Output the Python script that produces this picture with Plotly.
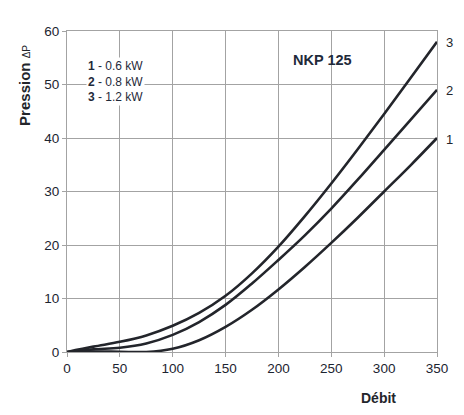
import plotly.graph_objects as go

# flow (Débit) and pressure drop readings for the three heater powers
debit = [0, 25, 50, 75, 100, 125, 150, 175, 200, 225, 250, 275, 300, 325, 350]
p_06kw = [0, 0.1, 0.05, 0, 0.6, 2.2, 4.7, 7.9, 11.7, 15.9, 20.4, 25.1, 30.0, 34.9, 40]
p_08kw = [0, 0.5, 0.8, 1.6, 3.2, 5.6, 8.8, 12.8, 17.2, 21.8, 26.8, 32.2, 37.8, 43.4, 49]
p_12kw = [0, 1.0, 1.9, 3.1, 4.9, 7.3, 10.5, 14.7, 19.7, 25.4, 31.5, 37.9, 44.5, 51.2, 58]
curve_names = ["1", "2", "3"]
legend_lines = [("1", "0.6 kW"), ("2", "0.8 kW"), ("3", "1.2 kW")]

INK = "#23252b"
GRID = "#a3a3a3"
FONT = "Liberation Sans, Arial, sans-serif"

fig = go.Figure()
for name, ys in zip(curve_names, [p_06kw, p_08kw, p_12kw]):
    fig.add_trace(go.Scatter(x=debit, y=ys, mode="lines", name=name,
                             line=dict(color=INK, width=2.6, shape="spline", smoothing=1.0),
                             showlegend=False))
    fig.add_annotation(x=debit[-1], y=ys[-1], text=name, showarrow=False,
                       xanchor="left", xshift=7, yshift=-1,
                       font=dict(size=13, color=INK))

legend_txt = "<br>".join(f"<b>{n}</b> - {v}" for n, v in legend_lines)
fig.add_annotation(x=45.5, y=50.6, text=legend_txt, showarrow=False,
                   bgcolor="white", align="center",
                   font=dict(size=12, color="#1f2a3a"))
fig.add_annotation(x=242, y=54.6, text="<b>NKP 125</b>", showarrow=False,
                   font=dict(size=14.5, color="#1f2a3a"))
fig.add_annotation(xref="paper", yref="paper", x=0.841, y=-0.143,
                   xanchor="center", yanchor="middle",
                   text="<b>Débit</b>", showarrow=False,
                   font=dict(size=14, color=INK))
fig.add_annotation(xref="paper", yref="paper", x=-0.1135, y=0.829,
                   xanchor="center", yanchor="middle",
                   text="<b>Pression</b> <span style='font-size:10px'>ΔP</span>",
                   textangle=-90, showarrow=False,
                   font=dict(size=15, color=INK))

axis = dict(showgrid=True, gridcolor=GRID, gridwidth=1, zeroline=False,
            showline=True, linecolor=GRID, linewidth=1.2, mirror=True,
            ticks="outside", ticklen=4, tickcolor=GRID,
            tickfont=dict(size=13.5, color="#1c2430"))
fig.update_xaxes(range=[0, 350], dtick=50, **axis)
fig.update_yaxes(range=[0, 60], dtick=10, **axis)
# page body adds an 8px offset, so the margins are trimmed to match
fig.update_layout(width=456, height=407, plot_bgcolor="white", paper_bgcolor="white",
                  margin=dict(l=59, r=27, t=23, b=63),
                  font=dict(family=FONT, color=INK))

fig.write_html("out.html")
